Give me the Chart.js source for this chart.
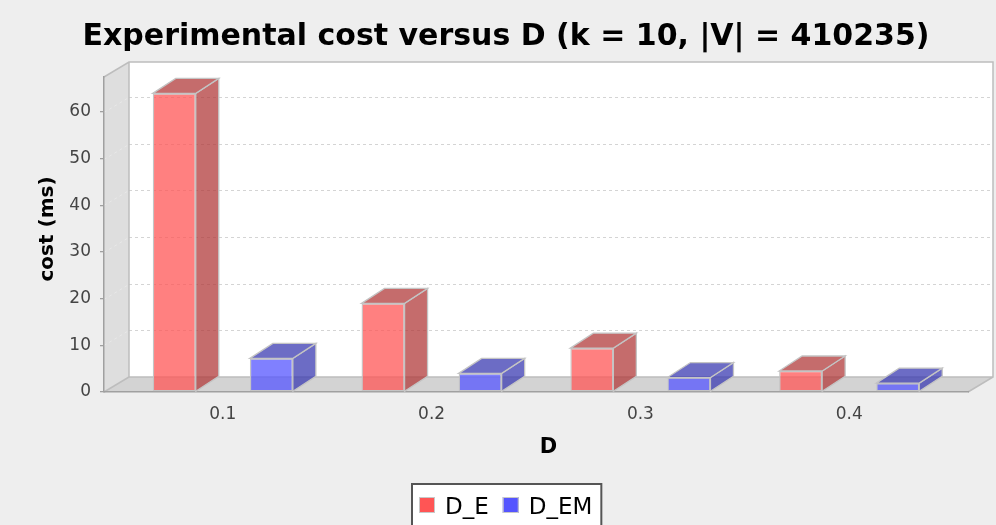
<!DOCTYPE html>
<html>
<head>
<meta charset="utf-8">
<title>Experimental cost versus D</title>
<script src="https://cdn.jsdelivr.net/npm/chart.js@4/dist/chart.umd.min.js"></script>
<style>
  html, body { margin: 0; padding: 0; background: #eeeeee; }
  #wrap { width: 996px; height: 525px; }
</style>
</head>
<body>
<div id="wrap"><canvas id="chart" width="996" height="525"></canvas></div>
<script>
// Data
const categories = ['0.1', '0.2', '0.3', '0.4'];
const seriesNames = ['D_E', 'D_EM'];
const costDE = [64.0, 19.0, 9.4, 4.5];
const costDEM = [7.2, 4.0, 3.1, 1.9];
const yTicks = [0, 10, 20, 30, 40, 50, 60];

const chartTitle = 'Experimental cost versus D (k = 10, |V| = 410235)';
const xTitle = 'D';
const yTitle = 'cost (ms)';

// 3D look: depth of the walls and of the bars
const WALL_DX = 25, WALL_DY = 15;
const BAR_DX = 23, BAR_DY = 15;

const FONT = '"DejaVu Sans", "Liberation Sans", sans-serif';

const plot3d = {
  id: 'plot3d',
  beforeDraw(chart) {
    const { ctx, chartArea: a } = chart;
    const yScale = chart.scales.y;
    ctx.save();
    ctx.fillStyle = '#eeeeee';
    ctx.fillRect(0, 0, chart.width, chart.height);

    // back wall
    ctx.fillStyle = '#ffffff';
    ctx.fillRect(a.left + WALL_DX, a.top - WALL_DY, a.right - a.left, a.bottom - a.top);

    // left wall
    ctx.fillStyle = '#dedede';
    ctx.beginPath();
    ctx.moveTo(a.left, a.top);
    ctx.lineTo(a.left + WALL_DX, a.top - WALL_DY);
    ctx.lineTo(a.left + WALL_DX, a.bottom - WALL_DY);
    ctx.lineTo(a.left, a.bottom);
    ctx.closePath();
    ctx.fill();

    // floor
    ctx.fillStyle = '#d3d3d3';
    ctx.beginPath();
    ctx.moveTo(a.left, a.bottom);
    ctx.lineTo(a.left + WALL_DX, a.bottom - WALL_DY);
    ctx.lineTo(a.right + WALL_DX, a.bottom - WALL_DY);
    ctx.lineTo(a.right, a.bottom);
    ctx.closePath();
    ctx.fill();

    // grid lines on the back wall, continued faintly across the left wall
    ctx.lineWidth = 1;
    ctx.setLineDash([3, 3]);
    yTicks.forEach(v => {
      if (v === 0) return;
      const y = Math.round(yScale.getPixelForValue(v)) + 0.5;
      ctx.strokeStyle = '#d4d4d4';
      ctx.beginPath();
      ctx.moveTo(a.left + WALL_DX, y - WALL_DY);
      ctx.lineTo(a.right + WALL_DX, y - WALL_DY);
      ctx.stroke();
      ctx.strokeStyle = '#e8e8e8';
      ctx.beginPath();
      ctx.moveTo(a.left, y);
      ctx.lineTo(a.left + WALL_DX, y - WALL_DY);
      ctx.stroke();
    });
    ctx.setLineDash([]);

    // outline of the walls
    ctx.strokeStyle = '#bdbdbd';
    ctx.lineWidth = 1.5;
    ctx.beginPath();
    ctx.moveTo(a.left, a.top);
    ctx.lineTo(a.left + WALL_DX, a.top - WALL_DY);
    ctx.lineTo(a.right + WALL_DX, a.top - WALL_DY);
    ctx.lineTo(a.right + WALL_DX, a.bottom - WALL_DY);
    ctx.lineTo(a.right, a.bottom);
    ctx.moveTo(a.left + WALL_DX, a.top - WALL_DY);
    ctx.lineTo(a.left + WALL_DX, a.bottom - WALL_DY);
    ctx.lineTo(a.right + WALL_DX, a.bottom - WALL_DY);
    ctx.moveTo(a.left, a.bottom);
    ctx.lineTo(a.left + WALL_DX, a.bottom - WALL_DY);
    ctx.stroke();
    ctx.restore();
  },
  afterDatasetsDraw(chart) {
    const { ctx } = chart;
    ctx.save();
    chart.data.datasets.forEach((ds, di) => {
      const meta = chart.getDatasetMeta(di);
      meta.data.forEach(bar => {
        const { x, y, base, width } = bar.getProps(['x', 'y', 'base', 'width'], true);
        const l = x - width / 2, r = x + width / 2;
        ctx.fillStyle = ds.sideColor;
        ctx.strokeStyle = '#c4c4c4';
        ctx.lineWidth = 1.3;
        // side face
        ctx.beginPath();
        ctx.moveTo(r, y);
        ctx.lineTo(r + BAR_DX, y - BAR_DY);
        ctx.lineTo(r + BAR_DX, base - BAR_DY);
        ctx.lineTo(r, base);
        ctx.closePath();
        ctx.fill();
        ctx.stroke();
        // top face
        ctx.beginPath();
        ctx.moveTo(l, y);
        ctx.lineTo(l + BAR_DX, y - BAR_DY);
        ctx.lineTo(r + BAR_DX, y - BAR_DY);
        ctx.lineTo(r, y);
        ctx.closePath();
        ctx.fill();
        ctx.stroke();
      });
    });
    ctx.restore();
  },
  afterDraw(chart) {
    const { ctx, chartArea: a } = chart;
    ctx.save();
    // chart title
    ctx.fillStyle = '#000000';
    ctx.font = 'bold 30px ' + FONT;
    ctx.textAlign = 'center';
    ctx.textBaseline = 'alphabetic';
    ctx.fillText(chartTitle, 506, 45);

    // axis titles
    ctx.font = 'bold 21px ' + FONT;
    ctx.fillText(xTitle, (a.left + a.right + WALL_DX) / 2, 453);
    ctx.save();
    ctx.translate(53, 229);
    ctx.rotate(-Math.PI / 2);
    ctx.font = 'bold 20px ' + FONT;
    ctx.fillText(yTitle, 0, 0);
    ctx.restore();

    // legend
    ctx.font = '23px ' + FONT;
    ctx.textAlign = 'left';
    const items = chart.data.datasets.map(ds => ({
      label: ds.label, color: ds.legendColor, w: ctx.measureText(ds.label).width
    }));
    const padL = 7, padR = 9, sq = 16, gapText = 10, gapItem = 14;
    let total = padL + padR + gapItem * (items.length - 1);
    items.forEach(it => { total += sq + gapText + it.w; });
    const boxLeft = Math.round(506.7 - total / 2);
    const boxTop = 484;
    ctx.fillStyle = '#ffffff';
    ctx.fillRect(boxLeft, boxTop, total, 60);
    ctx.strokeStyle = '#555555';
    ctx.lineWidth = 2;
    ctx.strokeRect(boxLeft, boxTop, total, 60);
    let cx = boxLeft + padL;
    items.forEach(it => {
      ctx.fillStyle = it.color;
      ctx.fillRect(cx, 497, sq, sq);
      ctx.strokeStyle = '#c8c8c8';
      ctx.lineWidth = 1;
      ctx.strokeRect(cx + 0.5, 497.5, sq - 1, sq - 1);
      cx += sq + gapText;
      ctx.fillStyle = '#000000';
      ctx.fillText(it.label, cx, 513.5);
      cx += it.w + gapItem;
    });
    ctx.restore();
  }
};

const chart = new Chart(document.getElementById('chart'), {
  type: 'bar',
  data: {
    datasets: [
      {
        label: seriesNames[0],
        data: costDE.map((v, i) => ({ x: i, y: v })),
        backgroundColor: 'rgba(255,85,85,0.75)',
        sideColor: 'rgba(178,59,59,0.75)',
        legendColor: '#ff5555',
        borderColor: '#c4c4c4',
        borderWidth: 1.3,
        borderSkipped: false
      },
      {
        label: seriesNames[1],
        data: costDEM.map((v, i) => ({ x: i, y: v })),
        backgroundColor: 'rgba(85,85,255,0.75)',
        sideColor: 'rgba(59,59,178,0.75)',
        legendColor: '#5555ff',
        borderColor: '#c4c4c4',
        borderWidth: 1.3,
        borderSkipped: false
      }
    ]
  },
  options: {
    responsive: false,
    animation: false,
    devicePixelRatio: 1,
    categoryPercentage: 0.93,
    barPercentage: 0.443,
    layout: { padding: { top: 77, right: 28, left: 0, bottom: 0 } },
    plugins: {
      legend: { display: false },
      title: { display: false },
      tooltip: { enabled: false }
    },
    scales: {
      x: {
        type: 'linear',
        offset: false,
        min: -0.569,
        max: 3.569,
        afterBuildTicks: s => { s.ticks = categories.map((c, i) => ({ value: i })); },
        afterFit: s => { s.height = 133; },
        grid: { display: false },
        border: { display: true, color: '#a0a0a0', width: 1.5 },
        ticks: {
          padding: 4,
          color: '#444444',
          font: { family: FONT, size: 17 },
          callback: v => categories[v] !== undefined ? categories[v] : ''
        }
      },
      y: {
        type: 'linear',
        min: 0,
        max: 67.5,
        afterBuildTicks: s => { s.ticks = yTicks.map(v => ({ value: v })); },
        afterFit: s => { s.width = 104; },
        grid: { drawOnChartArea: false, drawTicks: true, tickLength: 4, color: '#a0a0a0', lineWidth: 1.3 },
        border: { display: true, color: '#a0a0a0', width: 1.5 },
        ticks: {
          padding: 9,
          color: '#444444',
          font: { family: FONT, size: 17 }
        }
      }
    }
  },
  plugins: [plot3d]
});
</script>
</body>
</html>
